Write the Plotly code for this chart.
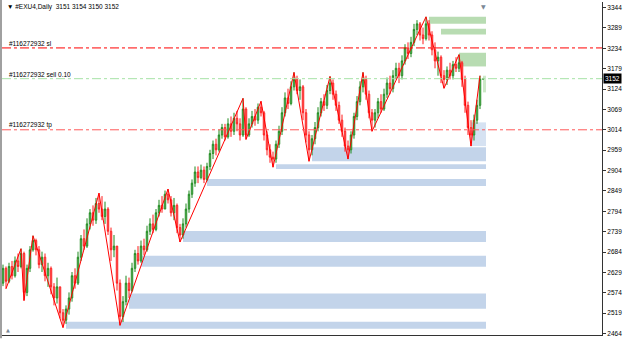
import plotly.graph_objects as go

# ---------------- data ----------------
first_open = 2600
closes = [2640, 2605, 2645, 2620, 2660, 2645, 2680, 2575, 2640, 2690, 2715,
          2690, 2650, 2670, 2620, 2640, 2590, 2560, 2590, 2520, 2500,
          2530, 2560, 2620, 2600, 2670, 2720, 2700, 2760, 2790, 2770, 2815, 2800,
          2780, 2800, 2740, 2690, 2700, 2600, 2510,
          2550, 2600, 2580, 2640, 2680, 2660, 2700, 2690, 2740, 2760, 2745, 2790, 2810, 2800, 2840, 2825,
          2790, 2810, 2750, 2730,
          2760, 2800, 2840, 2870, 2900, 2885, 2905, 2880, 2915, 2950, 2975, 2960, 3000, 3020, 2995, 3030, 3010, 3045, 3030, 3000, 3070,
          3000, 3030, 3050, 3040, 3075, 3060, 3000, 2960, 2940, 2935,
          2975, 3010, 3060, 3100, 3085, 3130, 3150,
          3120, 3130, 3060, 3000, 2960,
          2990, 3020, 3060, 3090, 3080, 3120, 3140,
          3110, 3080, 3040, 3010, 2970, 2960,
          3000, 3050, 3090, 3130, 3150,
          3110, 3060, 3040,
          3060, 3090, 3070, 3110, 3140, 3125, 3160, 3180, 3160, 3200, 3235, 3220, 3250, 3285, 3300, 3270, 3260, 3300,
          3270, 3230, 3200, 3210, 3160, 3150,
          3175, 3160, 3190, 3180, 3195,
          3150, 3080, 3020, 3000,
          3040, 3080, 3151, 3152]
highs = [2650, 2645, 2655, 2660, 2672, 2680, 2693, 2685, 2650, 2700, 2728,
         2720, 2700, 2685, 2680, 2655, 2645, 2600, 2615, 2585, 2530,
         2540, 2575, 2630, 2640, 2685, 2730, 2745, 2775, 2800, 2810, 2830, 2843,
         2835, 2820, 2805, 2750, 2730, 2700, 2610,
         2565, 2620, 2615, 2655, 2690, 2700, 2715, 2720, 2755, 2775, 2785, 2800, 2825, 2835, 2850, 2854,
         2835, 2830, 2815, 2760,
         2775, 2815, 2850, 2880, 2915, 2915, 2920, 2915, 2925, 2960, 2985, 2990, 3015, 3030, 3030, 3045, 3050, 3060, 3065, 3045, 3099,
         3075, 3045, 3065, 3070, 3085, 3091, 3065, 3010, 2975, 2955,
         2985, 3025, 3075, 3115, 3125, 3145, 3169,
         3160, 3150, 3135, 3070, 3010,
         3000, 3035, 3075, 3100, 3110, 3135, 3158,
         3150, 3120, 3090, 3055, 3020, 2985,
         3010, 3060, 3105, 3145, 3169,
         3160, 3120, 3070,
         3070, 3100, 3110, 3125, 3155, 3160, 3175, 3195, 3195, 3215, 3245, 3250, 3265, 3300, 3310, 3305, 3290, 3319,
         3310, 3280, 3250, 3225, 3215, 3175,
         3185, 3195, 3200, 3210, 3217,
         3200, 3160, 3090, 3040,
         3055, 3095, 3160, 3154]
lows = [2592, 2585, 2600, 2610, 2615, 2630, 2640, 2553, 2565, 2630, 2685,
        2675, 2640, 2630, 2605, 2590, 2570, 2540, 2545, 2505, 2480,
        2490, 2515, 2550, 2585, 2595, 2660, 2690, 2695, 2745, 2755, 2760, 2790,
        2770, 2760, 2730, 2660, 2670, 2580, 2486,
        2495, 2540, 2560, 2575, 2630, 2650, 2655, 2675, 2685, 2730, 2735, 2740, 2780, 2790, 2800, 2815,
        2780, 2770, 2735, 2711,
        2720, 2750, 2790, 2830, 2860, 2870, 2880, 2870, 2875, 2905, 2935, 2945, 2955, 2990, 2985, 2990, 2995, 3000, 3010, 2985, 2995,
        2988, 2995, 3020, 3025, 3030, 3050, 2985, 2945, 2925, 2913,
        2925, 2965, 3000, 3050, 3070, 3080, 3120,
        3110, 3095, 3040, 2980, 2929,
        2945, 2975, 3010, 3050, 3065, 3070, 3110,
        3095, 3065, 3030, 2995, 2955, 2935,
        2950, 2990, 3040, 3080, 3115,
        3095, 3045, 3010,
        3020, 3045, 3060, 3065, 3100, 3110, 3115, 3150, 3140, 3150, 3190, 3205, 3210, 3240, 3270, 3255, 3245, 3255,
        3255, 3215, 3180, 3160, 3140, 3126,
        3135, 3150, 3150, 3170, 3170,
        3130, 3060, 3000, 2970,
        2985, 3030, 3070, 3150]

# zigzag pivots (bar index, price)
zz_bar = [1, 6, 7, 10, 20, 32, 39, 55, 59, 80, 81, 86, 90, 97, 102, 109, 115, 120, 123, 141, 147, 152, 156, 159]
zz_price = [2585, 2693, 2553, 2728, 2480, 2843, 2486, 2854, 2711, 3099, 2988, 3091, 2913, 3169, 2929,
            3158, 2935, 3169, 3010, 3319, 3126, 3217, 2970, 3160]

# zones: start bar, low, high
demand_start = [103, 91, 68, 60, 46, 42, 21]
demand_low = [2929, 2908, 2862, 2711, 2644, 2531, 2477]
demand_high = [2967, 2921, 2881, 2741, 2674, 2572, 2496]
supply_start = [142, 146, 152]
supply_low = [3300, 3271, 3185]
supply_high = [3319, 3287, 3222]
fresh_demand = (156, 2970, 3034)
fresh_supply = (160, 3115, 3160)
zone_end = 161

# order lines
order_levels = [3235, 3152, 3014]
order_labels = ["#116272932 sl", "#116272932 sell 0.10", "#116272932 tp"]
order_colors = ["#ff0000", "#a6e3a6", "#ff5a5a"]

y_ticks = [2464 + 55 * k for k in range(17)]
title_text = "#EXU4,Daily  3151 3154 3150 3152"
last_price = 3152

# ---------------- figure ----------------
n = len(closes)
bars = list(range(n))
opens = [first_open] + closes[:-1]
opens[-1] = 3151
highs = [max(h, o, c) for h, o, c in zip(highs, opens, closes)]
lows = [min(l, o, c) for l, o, c in zip(lows, opens, closes)]

fig = go.Figure()

shapes = []
for s, lo, hi in zip(demand_start, demand_low, demand_high):
    shapes.append(dict(type="rect", xref="x", yref="y", x0=s, x1=zone_end, y0=lo, y1=hi,
                       fillcolor="#c3d4ea", line=dict(width=0), layer="below"))
for s, lo, hi in zip(supply_start, supply_low, supply_high):
    shapes.append(dict(type="rect", xref="x", yref="y", x0=s, x1=zone_end, y0=lo, y1=hi,
                       fillcolor="#b8dcb2", line=dict(width=0), layer="below"))
shapes.append(dict(type="rect", xref="x", yref="y", x0=fresh_demand[0], x1=zone_end,
                   y0=fresh_demand[1], y1=fresh_demand[2], fillcolor="#d6e2f2", line=dict(width=0), layer="below"))
shapes.append(dict(type="rect", xref="x", yref="y", x0=fresh_supply[0], x1=zone_end,
                   y0=fresh_supply[1], y1=fresh_supply[2], fillcolor="#cde8c8", line=dict(width=0), layer="below"))
for lvl, col in zip(order_levels, order_colors):
    shapes.append(dict(type="line", xref="paper", yref="y", x0=0, x1=1, y0=lvl, y1=lvl,
                       line=dict(color=col, width=1, dash="dashdot"), layer="above"))
# window left border
shapes.append(dict(type="rect", xref="paper", yref="paper", x0=-0.0034, x1=0, y0=-0.01, y1=1.01,
                   fillcolor="#a0a0a0", line=dict(width=0)))

fig.add_trace(go.Candlestick(
    x=bars, open=opens, high=highs, low=lows, close=closes,
    increasing=dict(line=dict(color="#1e8a1e", width=1), fillcolor="#a3d4a3"),
    decreasing=dict(line=dict(color="#ff1a1a", width=1), fillcolor="#f4a6a6"),
    whiskerwidth=0, showlegend=False, hoverinfo="skip"))

fig.add_trace(go.Scatter(x=zz_bar, y=zz_price, mode="lines",
                         line=dict(color="#ff0000", width=1), showlegend=False, hoverinfo="skip"))

annotations = []
for lvl, lab in zip(order_levels, order_labels):
    annotations.append(dict(xref="paper", yref="y", x=0.008, y=lvl, text=lab, showarrow=False,
                            xanchor="left", yanchor="bottom", yshift=-1,
                            font=dict(family="Liberation Sans", size=6.5, color="black")))
annotations.append(dict(xref="paper", yref="paper", x=0.005, y=0.985, text="▼ " + title_text,
                        showarrow=False, xanchor="left", yanchor="middle",
                        font=dict(family="Liberation Sans", size=6.5, color="black")))
annotations.append(dict(xref="paper", yref="y", x=1, y=last_price, text=str(last_price),
                        showarrow=False, xanchor="left", yanchor="middle", xshift=1,
                        bgcolor="black", borderpad=1,
                        font=dict(family="Liberation Sans", size=6.5, color="white")))
annotations.append(dict(xref="x", yref="paper", x=160, y=1.0, text="▼", showarrow=False,
                        xanchor="center", yanchor="top", yshift=1,
                        font=dict(family="DejaVu Sans", size=6, color="#7a8796")))
annotations.append(dict(xref="paper", yref="paper", x=0.003, y=0.0, text="▲", showarrow=False,
                        xanchor="left", yanchor="bottom",
                        font=dict(family="DejaVu Sans", size=5, color="#7a8796")))

fig.update_layout(
    width=625, height=339,
    margin=dict(l=2, r=23, t=2, b=2),
    paper_bgcolor="white", plot_bgcolor="white",
    shapes=shapes, annotations=annotations,
    xaxis=dict(range=[-1 / 3, 200 - 1 / 3], showgrid=False, zeroline=False, showticklabels=False,
               showline=True, linecolor="#333333", linewidth=1, mirror=False,
               rangeslider=dict(visible=False), fixedrange=True),
    yaxis=dict(range=[2460, 3359], side="right", showgrid=False, zeroline=False,
               tickvals=y_ticks, ticktext=[str(v) for v in y_ticks],
               ticks="outside", ticklen=3, tickcolor="#333333",
               tickfont=dict(family="Liberation Sans", size=6.5, color="black"),
               showline=True, linecolor="#333333", linewidth=1, fixedrange=True),
)

fig.write_html("out.html")
